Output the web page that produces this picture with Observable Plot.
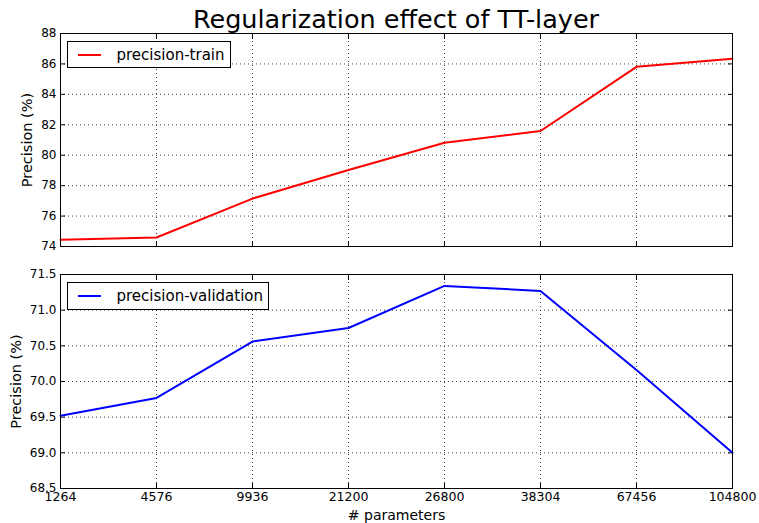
<!DOCTYPE html>
<html>
<head>
<meta charset="utf-8">
<script src="https://cdn.jsdelivr.net/npm/d3@7"></script>
<script src="https://cdn.jsdelivr.net/npm/@observablehq/plot@0.6"></script>
<style>
  html, body { margin: 0; padding: 0; background: #fff; overflow: hidden; }
  #wrap { position: relative; width: 759px; height: 523px; font-family: "DejaVu Sans", sans-serif; color: #000; overflow: hidden; }
  #title { position: absolute; left: 0; width: 792px; top: 4px; text-align: center; font-size: 25.5px; line-height: 30px; }
  .panel { position: absolute; left: 0; }
  .legend { position: absolute; background: #fff; border: 1px solid #000; box-sizing: border-box; font-size: 15px; }
  .legend .sw { position: absolute; left: 10px; width: 23px; height: 2px; }
  .legend .lbl { position: absolute; left: 48.5px; white-space: nowrap; }
</style>
</head>
<body>
<div id="wrap">
  <div id="top" class="panel" style="top:0px"></div>
  <div id="bottom" class="panel" style="top:260px"></div>
  <div id="title">Regularization effect of TT-layer</div>
  <div id="leg1" class="legend" style="left:67px; top:41px; width:164px; height:27px;"></div>
  <div id="leg2" class="legend" style="left:67px; top:282px; width:202px; height:28px;"></div>
</div>
<script>
const categories = ["1264", "4576", "9936", "21200", "26800", "38304", "67456", "104800"];
const trainPrecision = [74.44, 74.59, 77.15, 79.03, 80.82, 81.59, 85.81, 86.34];
const validationPrecision = [69.52, 69.77, 70.56, 70.75, 71.34, 71.27, 70.16, 69.0];
const trainTicks = [74, 76, 78, 80, 82, 84, 86, 88];
const validationTicks = [68.5, 69.0, 69.5, 70.0, 70.5, 71.0, 71.5];
const yLabel = "Precision (%)";
const xLabel = "# parameters";
const seriesNames = ["precision-train", "precision-validation"];
const seriesColors = ["#ff0000", "#0000ff"];

const trainData = categories.map((c, i) => ({param: c, value: trainPrecision[i]}));
const validationData = categories.map((c, i) => ({param: c, value: validationPrecision[i]}));

function panel({data, ticks, color, height, marginTop, marginBottom, showX, yFormat, yLabelDx}) {
  const grid = {stroke: "#000", strokeOpacity: 0.75, strokeDasharray: "1,3", strokeWidth: 1};
  const marks = [
    Plot.gridY(ticks, grid),
    Plot.gridX(categories, grid),
    Plot.axisY(ticks, {anchor: "left", tickSize: 0, tickPadding: 4, tickFormat: yFormat, label: null, fontSize: 12}),
    Plot.axisY(ticks, {anchor: "left", tickSize: 5, dx: 5, tickFormat: () => "", label: null}),
    Plot.axisY(ticks, {anchor: "right", tickSize: 5, dx: -5, tickFormat: () => "", label: null}),
    Plot.axisX(categories, {anchor: "bottom", tickSize: 5, dy: -5, tickFormat: () => "", label: null}),
    Plot.axisX(categories, {anchor: "top", tickSize: 5, dy: 5, tickFormat: () => "", label: null}),
    Plot.text([yLabel], {text: d => d, frameAnchor: "left", textAnchor: "middle", lineAnchor: "middle", dx: yLabelDx, rotate: -90, fontSize: 14.5, fill: "#000"}),
    Plot.line(data, {x: "param", y: "value", stroke: color, strokeWidth: 2}),
    Plot.frame({stroke: "#000", strokeWidth: 1})
  ];
  if (showX) {
    marks.push(Plot.axisX(categories, {anchor: "bottom", tickSize: 0, tickPadding: 4, label: null, fontSize: 12.5}));
    marks.push(Plot.text([xLabel], {text: d => d, frameAnchor: "bottom", textAnchor: "middle", lineAnchor: "middle", dy: 27, fontSize: 14, fill: "#000"}));
  }
  return Plot.plot({
    width: 759,
    height,
    marginLeft: 60,
    marginRight: 27,
    marginTop,
    marginBottom,
    style: {fontFamily: "DejaVu Sans, sans-serif", fontSize: "12px", color: "#000", background: "transparent", overflow: "visible"},
    x: {type: "point", domain: categories, padding: 0},
    y: {domain: [ticks[0], ticks[ticks.length - 1]]},
    marks
  });
}

document.getElementById("top").append(panel({
  data: trainData, ticks: trainTicks, color: seriesColors[0], height: 260, marginTop: 33, marginBottom: 14,
  showX: false, yFormat: d => String(d), yLabelDx: -33
}));
document.getElementById("bottom").append(panel({
  data: validationData, ticks: validationTicks, color: seriesColors[1], height: 263, marginTop: 14, marginBottom: 35,
  showX: true, yFormat: d => d.toFixed(1), yLabelDx: -44
}));

function legend(id, name, color) {
  const el = document.getElementById(id);
  const h = el.offsetHeight;
  const sw = document.createElement("div");
  sw.className = "sw"; sw.style.background = color; sw.style.top = (h / 2 - 2) + "px";
  const lbl = document.createElement("div");
  lbl.className = "lbl"; lbl.textContent = name; lbl.style.top = (h / 2 - 10) + "px"; lbl.style.lineHeight = "18px";
  el.append(sw, lbl);
}
legend("leg1", seriesNames[0], seriesColors[0]);
legend("leg2", seriesNames[1], seriesColors[1]);
</script>
</body>
</html>
